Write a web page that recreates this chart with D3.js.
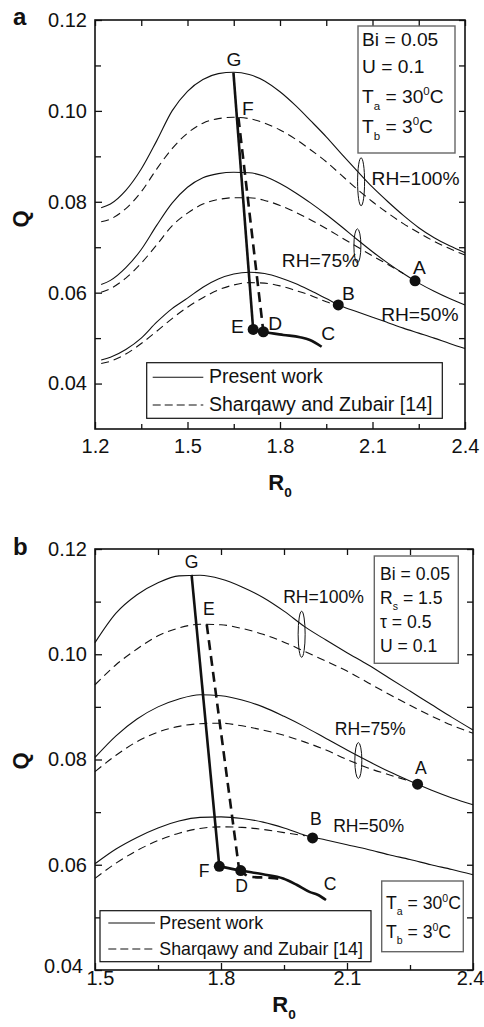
<!DOCTYPE html>
<html lang="en">
<head>
<meta charset="utf-8">
<title>Q versus R0</title>
<script src="https://d3js.org/d3.v7.min.js"></script>
<style>
  body { margin: 0; background: #fff; }
  svg text { font-family: "Liberation Sans", Arial, sans-serif; fill: #111; white-space: pre; }
</style>
</head>
<body>
<div id="chart"></div>
<script>

// ---- panel a data (R0 grid, Q values) ----
var aR = [1.22, 1.25, 1.30, 1.35, 1.40, 1.45, 1.50, 1.55, 1.60, 1.65, 1.70, 1.75, 1.80,
          1.85, 1.90, 1.95, 2.00, 2.05, 2.10, 2.15, 2.20, 2.25, 2.30, 2.35, 2.40];
var aPresent100 = [0.0787, 0.0795, 0.0825, 0.0872, 0.0934, 0.1000, 0.1043, 0.1069, 0.1082, 0.1085, 0.1080, 0.1066, 0.1042,
                   0.1012, 0.0978, 0.0943, 0.0905, 0.0868, 0.0832, 0.0800, 0.0770, 0.0743, 0.0721, 0.0703, 0.0688];
var aSharq100   = [0.0756, 0.0762, 0.0785, 0.0822, 0.0872, 0.0917, 0.0951, 0.0973, 0.0983, 0.0986, 0.0983, 0.0973, 0.0958,
                   0.0938, 0.0914, 0.0888, 0.0858, 0.0828, 0.0800, 0.0775, 0.0752, 0.0732, 0.0713, 0.0697, 0.0683];
var aPresent75  = [0.0618, 0.0627, 0.0655, 0.0695, 0.0748, 0.0797, 0.0832, 0.0853, 0.0862, 0.0865, 0.0864, 0.0856, 0.0840,
                   0.0820, 0.0797, 0.0772, 0.0745, 0.0717, 0.0690, 0.0665, 0.0642, 0.0621, 0.0603, 0.0587, 0.0573];
var aSharq75    = [0.0601, 0.0609, 0.0632, 0.0665, 0.0705, 0.0747, 0.0775, 0.0795, 0.0805, 0.0809, 0.0809, 0.0803, 0.0792,
                   0.0777, 0.0760, 0.0741, 0.0721, 0.0701, 0.0681, 0.0662, 0.0642];
var aPresent50  = [0.0452, 0.0458, 0.0475, 0.0500, 0.0535, 0.0565, 0.0588, 0.0612, 0.0630, 0.0641, 0.0645, 0.0642, 0.0633,
                   0.0620, 0.0604, 0.0587, 0.0570, 0.0558, 0.0546, 0.0534, 0.0522, 0.0511, 0.0500, 0.0488, 0.0477];
var aSharq50    = [0.0444, 0.0449, 0.0465, 0.0488, 0.0515, 0.0543, 0.0568, 0.0589, 0.0606, 0.0617, 0.0622, 0.0621, 0.0615,
                   0.0605, 0.0594, 0.0580, 0.0570];
// optimum path (G -> E -> D -> C) and Sharqawy path (F -> D)
var aPathG = [[1.649, 0.1084], [1.713, 0.0519]];
var aPathC = [[1.713, 0.0519], [1.746, 0.0514], [1.811, 0.0507], [1.865, 0.0502], [1.897, 0.0496], [1.935, 0.0481]];
var aPathF = [[1.665, 0.0986], [1.746, 0.0514]];
var aDots = [[2.238, 0.0626], [1.989, 0.0573], [1.713, 0.0519], [1.746, 0.0514]];
// point labels: text, R0, Q, anchor
var aLabels = [["G", 1.651, 0.1099, "middle"], ["F", 1.696, 0.0991, "middle"], ["A", 2.252, 0.0641, "middle"],
               ["B", 2.022, 0.0584, "middle"], ["E", 1.662, 0.0512, "middle"], ["D", 1.784, 0.0518, "middle"],
               ["C", 1.956, 0.0496, "middle"], ["RH=100%", 2.097, 0.0837, "start"],
               ["RH=75%", 1.806, 0.0657, "start"], ["RH=50%", 2.128, 0.0538, "start"]];
var aEllipses = [[2.063, 0.0844, 24], [2.051, 0.0703, 17]];

// ---- panel b data ----
var bR = [1.50, 1.55, 1.60, 1.65, 1.70, 1.75, 1.80, 1.85, 1.90, 1.95, 2.00, 2.05, 2.10, 2.15, 2.20, 2.25, 2.30, 2.35, 2.40];
var bPresent100 = [0.1022, 0.1078, 0.1113, 0.1136, 0.1149, 0.1150, 0.1143, 0.1128, 0.1108, 0.1082, 0.1052, 0.1027, 0.1003,
                   0.0980, 0.0955, 0.0930, 0.0905, 0.0880, 0.0856];
var bSharq100   = [0.0942, 0.0980, 0.1010, 0.1035, 0.1050, 0.1057, 0.1056, 0.1049, 0.1038, 0.1023, 0.1005, 0.0987, 0.0968,
                   0.0946, 0.0924, 0.0903, 0.0883, 0.0865, 0.0850];
var bPresent75  = [0.0804, 0.0845, 0.0877, 0.0900, 0.0915, 0.0923, 0.0921, 0.0913, 0.0900, 0.0882, 0.0862, 0.0840, 0.0818,
                   0.0797, 0.0777, 0.0759, 0.0742, 0.0727, 0.0714];
var bSharq75    = [0.0777, 0.0808, 0.0834, 0.0852, 0.0863, 0.0868, 0.0869, 0.0864, 0.0856, 0.0846, 0.0833, 0.0818, 0.0800,
                   0.0784, 0.0771, 0.0759];
var bPresent50  = [0.0602, 0.0630, 0.0652, 0.0670, 0.0683, 0.0690, 0.0691, 0.0688, 0.0681, 0.0670, 0.0656, 0.0647, 0.0638,
                   0.0629, 0.0619, 0.0610, 0.0600, 0.0591, 0.0581];
var bSharq50    = [0.0574, 0.0603, 0.0627, 0.0646, 0.0660, 0.0669, 0.0672, 0.0671, 0.0667, 0.0661, 0.0655];
var bPathG = [[1.730, 0.1151], [1.796, 0.0597]];
var bPathC = [[1.796, 0.0597], [1.847, 0.0589], [1.900, 0.0582], [1.948, 0.0574], [1.980, 0.0562], [2.012, 0.0548],
              [2.030, 0.0543], [2.050, 0.0533]];
var bPathE = [[1.766, 0.1057], [1.843, 0.0592]];
var bPathE2 = [[1.843, 0.0592], [1.870, 0.0577], [1.920, 0.0575], [1.950, 0.0572]];
var bDots = [[2.268, 0.0753], [2.018, 0.0651], [1.796, 0.0597], [1.847, 0.0589]];
var bLabels = [["G", 1.730, 0.1164, "middle"], ["E", 1.771, 0.1075, "middle"], ["A", 2.276, 0.0772, "middle"],
               ["B", 2.026, 0.0676, "middle"], ["F", 1.760, 0.0577, "middle"], ["D", 1.849, 0.0549, "middle"],
               ["C", 2.060, 0.0552, "middle"], ["RH=100%", 1.948, 0.1097, "start"],
               ["RH=75%", 2.071, 0.0847, "start"], ["RH=50%", 2.067, 0.0663, "start"]];
var bEllipses = [[1.992, 0.1038, 23], [2.127, 0.0798, 18]];

var legendNames = ["Present work", "Sharqawy and Zubair [14]"];

var svg = d3.select("#chart").append("svg")
    .attr("width", 484)
    .attr("height", 1027);

var zip = function (xs, ys) { return ys.map(function (v, i) { return [xs[i], v]; }); };

// text with sub / superscripts: parts = [[text, "sub"|"sup"|undefined], ...]
var richText = function (g, x, y, parts, size, anchor, weight) {
  var t = g.append("text").attr("x", x).attr("y", y)
      .attr("font-size", size)
      .attr("text-anchor", anchor || "start")
      .attr("font-weight", weight || "normal");
  var shift = 0;
  parts.forEach(function (p) {
    var target = p[1] === "sub" ? 0.33 * size : (p[1] === "sup" ? -0.42 * size : 0);
    t.append("tspan")
        .attr("dy", target - shift)
        .attr("font-size", p[1] ? size * (p[2] || 0.6) : size)
        .text(p[0]);
    shift = target;
  });
  return t;
};

var drawPanel = function (cfg) {
  var g = svg.append("g").attr("transform", "translate(" + cfg.left + "," + cfg.top + ")");
  var x = d3.scaleLinear().domain(cfg.xDomain).range([0, cfg.width]);
  var y = d3.scaleLinear().domain(cfg.yDomain).range([cfg.height, 0]);

  var styleAxis = function (a) {
    a.select(".domain").remove();
    a.selectAll("line").attr("stroke", "#111").attr("stroke-width", 1.3);
    a.selectAll("text").attr("font-size", 20).attr("fill", "#111")
        .attr("font-family", '"Liberation Sans", Arial, sans-serif');
  };

  // axes, ticks pointing inwards
  var xAx = g.append("g").attr("transform", "translate(0," + cfg.height + ")")
      .call(d3.axisBottom(x).tickValues(cfg.xTicks).tickSize(-7).tickPadding(cfg.xPad).tickFormat(d3.format(".1f")))
      .call(styleAxis);
  g.append("g").attr("transform", "translate(0," + cfg.height + ")")
      .call(d3.axisBottom(x).tickValues(cfg.xMinor).tickSize(-5).tickFormat(""))
      .call(styleAxis);
  g.append("g")
      .call(d3.axisTop(x).tickValues(cfg.xTicks.concat(cfg.xMinor)).tickSize(-6).tickFormat(""))
      .call(styleAxis);
  var yAx = g.append("g")
      .call(d3.axisLeft(y).tickValues(cfg.yTicks).tickSize(-7).tickPadding(8).tickFormat(d3.format(".2f")))
      .call(styleAxis);
  g.append("g")
      .call(d3.axisLeft(y).tickValues(cfg.yMinor).tickSize(-6).tickFormat(""))
      .call(styleAxis);
  g.append("g").attr("transform", "translate(" + cfg.width + ",0)")
      .call(d3.axisRight(y).tickValues(cfg.yTicks.concat(cfg.yMinor)).tickSize(-6).tickFormat(""))
      .call(styleAxis);

  // tight corner labels (panel b): keep them inside the page and apart
  if (cfg.tightCorner) {
    xAx.selectAll(".tick text")
        .filter(function (d) { return d === cfg.xDomain[0]; })
        .attr("text-anchor", "start").attr("dx", -9);
    xAx.selectAll(".tick text")
        .filter(function (d) { return d === cfg.xDomain[1]; })
        .attr("text-anchor", "end").attr("dx", 11);
    yAx.selectAll(".tick text")
        .filter(function (d) { return d === cfg.yDomain[0]; })
        .attr("dx", -4).attr("dy", "0.1em");
  }

  g.append("rect")
      .attr("width", cfg.width).attr("height", cfg.height)
      .attr("fill", "none").attr("stroke", "#111").attr("stroke-width", 1.6);

  var line = d3.line()
      .x(function (d) { return x(d[0]); })
      .y(function (d) { return y(d[1]); })
      .curve(d3.curveMonotoneX);
  var straight = d3.line()
      .x(function (d) { return x(d[0]); })
      .y(function (d) { return y(d[1]); });

  // model curves
  cfg.curves.forEach(function (c) {
    g.append("path")
        .datum(zip(cfg.R, c.values))
        .attr("d", line)
        .attr("fill", "none")
        .attr("stroke", "#111")
        .attr("stroke-width", 1.1)
        .attr("stroke-dasharray", c.dashed ? "8,5" : null);
  });

  // optimum paths
  cfg.paths.forEach(function (p) {
    g.append("path")
        .datum(p.pts)
        .attr("d", p.smooth ? line(p.pts) : straight(p.pts))
        .attr("fill", "none")
        .attr("stroke", "#111")
        .attr("stroke-width", 2.6)
        .attr("stroke-dasharray", p.dashed ? "10,6" : null);
  });

  g.selectAll("circle.dot")
      .data(cfg.dots)
      .enter().append("circle")
        .attr("class", "dot")
        .attr("cx", function (d) { return x(d[0]); })
        .attr("cy", function (d) { return y(d[1]); })
        .attr("r", 5.5)
        .attr("fill", "#111");

  g.selectAll("ellipse")
      .data(cfg.ellipses)
      .enter().append("ellipse")
        .attr("cx", function (d) { return x(d[0]); })
        .attr("cy", function (d) { return y(d[1]); })
        .attr("rx", 3.5)
        .attr("ry", function (d) { return d[2]; })
        .attr("fill", "none")
        .attr("stroke", "#111")
        .attr("stroke-width", 1);

  g.selectAll("text.lbl")
      .data(cfg.labels)
      .enter().append("text")
        .attr("class", "lbl")
        .attr("x", function (d) { return x(d[1]); })
        .attr("y", function (d) { return y(d[2]); })
        .attr("text-anchor", function (d) { return d[3]; })
        .attr("font-size", cfg.labelSize)
        .text(function (d) { return d[0]; });

  // parameter boxes
  cfg.boxes.forEach(function (b) {
    g.append("rect")
        .attr("x", b.x).attr("y", b.y).attr("width", b.w).attr("height", b.h)
        .attr("fill", "#fff").attr("stroke", "#666").attr("stroke-width", 1.4);
    b.lines.forEach(function (ln, i) {
      richText(g, b.tx, b.ty[i], ln, cfg.labelSize);
    });
  });

  // legend
  var L = cfg.legend;
  g.append("rect")
      .attr("x", L.x).attr("y", L.y).attr("width", L.w).attr("height", L.h)
      .attr("fill", "#fff").attr("stroke", "#111").attr("stroke-width", 1.2);
  legendNames.forEach(function (name, i) {
    g.append("line")
        .attr("x1", L.x1).attr("x2", L.x2)
        .attr("y1", L.rows[i] - 6).attr("y2", L.rows[i] - 6)
        .attr("stroke", "#111").attr("stroke-width", 1.1)
        .attr("stroke-dasharray", i === 1 ? "8,4" : null);
    g.append("text")
        .attr("x", L.tx).attr("y", L.rows[i])
        .attr("font-size", L.size)
        .text(name);
  });

  // axis titles and panel letter
  richText(g, cfg.width / 2, cfg.xTitleY, [["R"], ["0", "sub", 0.62]], 22, "middle", "bold");
  g.append("text")
      .attr("transform", "translate(" + (20 - cfg.left) + "," + cfg.yTitleY + ") rotate(-90)")
      .attr("text-anchor", "middle")
      .attr("dominant-baseline", "central")
      .attr("font-size", 22)
      .attr("font-weight", "bold")
      .text("Q");
  g.append("text")
      .attr("x", 13 - cfg.left).attr("y", cfg.letterY)
      .attr("font-size", 24).attr("font-weight", "bold")
      .text(cfg.letter);
};

var taLine = [["T"], ["a", "sub"], [" = 30"], ["0", "sup"], ["C"]];
var tbLine = [["T"], ["b", "sub"], [" = 3"], ["0", "sup"], ["C"]];

drawPanel({
  letter: "a", left: 95, top: 20, width: 370, height: 409, letterY: 5,
  xDomain: [1.2, 2.4], yDomain: [0.03, 0.12],
  xTicks: [1.2, 1.5, 1.8, 2.1, 2.4], xMinor: [1.35, 1.65, 1.95, 2.25], xPad: 10,
  yTicks: [0.04, 0.06, 0.08, 0.10, 0.12], yMinor: [0.05, 0.07, 0.09, 0.11],
  R: aR,
  curves: [
    {values: aPresent100}, {values: aSharq100, dashed: true},
    {values: aPresent75}, {values: aSharq75, dashed: true},
    {values: aPresent50}, {values: aSharq50, dashed: true}
  ],
  paths: [
    {pts: aPathG}, {pts: aPathC, smooth: true}, {pts: aPathF, dashed: true}
  ],
  dots: aDots, labels: aLabels, ellipses: aEllipses, labelSize: 19.2,
  boxes: [
    {x: 263, y: 6, w: 97, h: 127, tx: 267, ty: [26, 53.3, 83.3, 113.3],
     lines: [[["Bi = 0.05"]], [["U = 0.1"]], taLine, tbLine]}
  ],
  legend: {x: 51.7, y: 342.7, w: 295.6, h: 55.6, x1: 57.7, x2: 108.3, tx: 114, rows: [363.3, 391], size: 19.5},
  xTitleY: 470, yTitleY: 199
});

drawPanel({
  letter: "b", left: 95, top: 549, width: 378, height: 421, letterY: 6, tightCorner: true,
  xDomain: [1.5, 2.4], yDomain: [0.04, 0.12],
  xTicks: [1.5, 1.8, 2.1, 2.4], xMinor: [1.65, 1.95, 2.25], xPad: 1,
  yTicks: [0.04, 0.06, 0.08, 0.10, 0.12], yMinor: [0.05, 0.07, 0.09, 0.11],
  R: bR,
  curves: [
    {values: bPresent100}, {values: bSharq100, dashed: true},
    {values: bPresent75}, {values: bSharq75, dashed: true},
    {values: bPresent50}, {values: bSharq50, dashed: true}
  ],
  paths: [
    {pts: bPathG}, {pts: bPathC, smooth: true}, {pts: bPathE, dashed: true}, {pts: bPathE2, dashed: true, smooth: true}
  ],
  dots: bDots, labels: bLabels, ellipses: bEllipses, labelSize: 17.6,
  boxes: [
    {x: 279.3, y: 7, w: 84, h: 107.3, tx: 285, ty: [31, 55, 79.3, 102.7],
     lines: [[["Bi = 0.05"]], [["R"], ["s", "sub"], [" = 1.5"]], [["τ = 0.5"]], [["U = 0.1"]]]},
    {x: 286.7, y: 332, w: 81.6, h: 70.7, tx: 291, ty: [360.3, 389.3],
     lines: [taLine, tbLine]}
  ],
  legend: {x: 5, y: 361.7, w: 271, h: 51, x1: 13.3, x2: 60, tx: 64.3, rows: [380, 406], size: 17.8},
  xTitleY: 463, yTitleY: 212
});

</script>
</body>
</html>
